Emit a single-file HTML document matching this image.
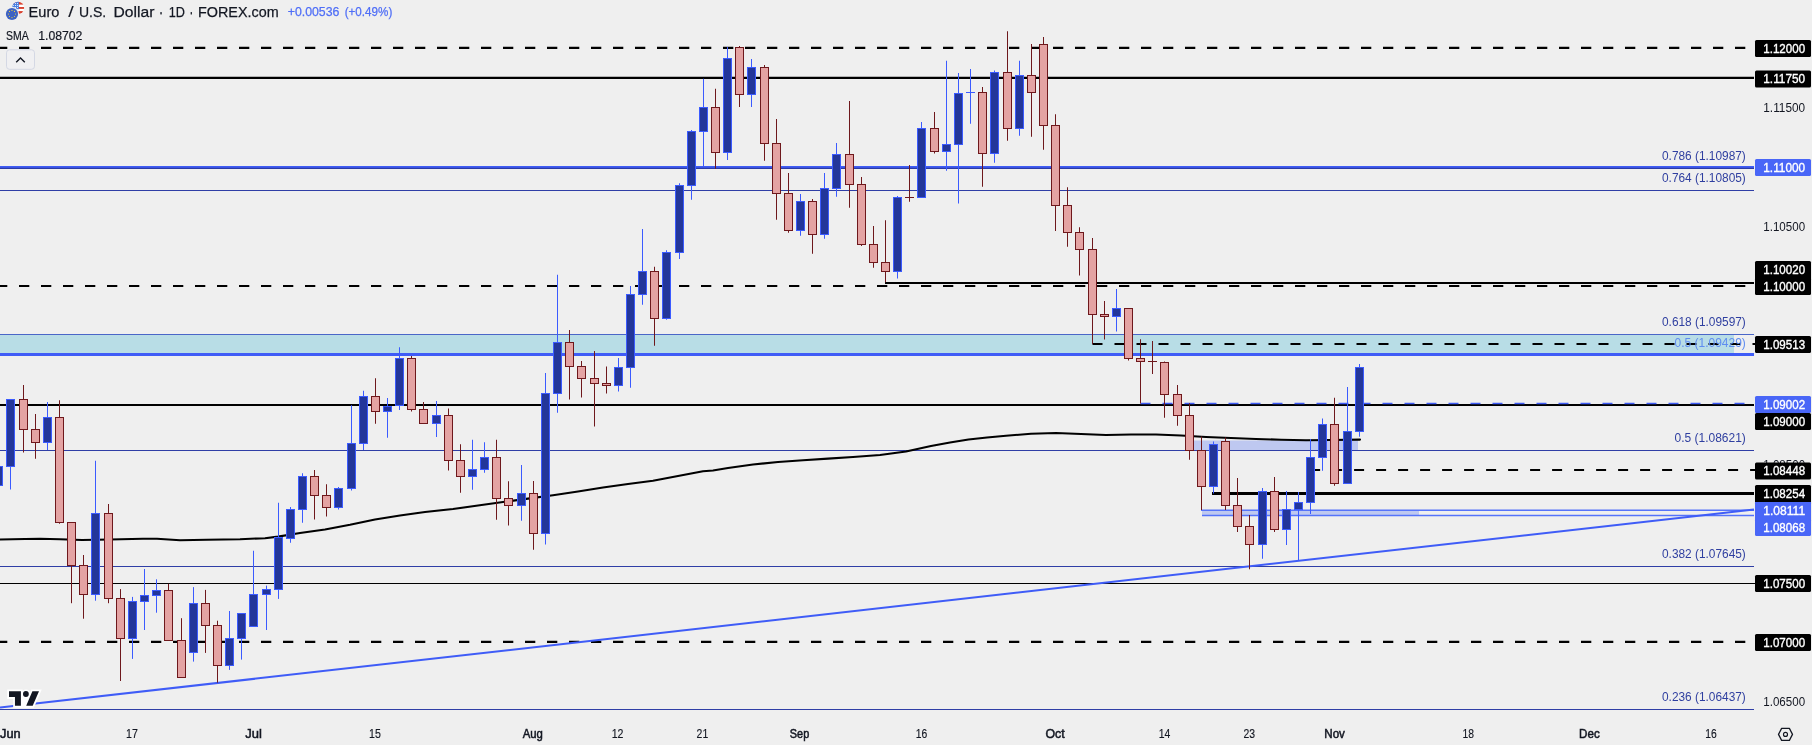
<!DOCTYPE html>
<html><head><meta charset="utf-8"><title>Euro / U.S. Dollar 1D</title>
<style>html,body{margin:0;padding:0;background:#efefef;overflow:hidden}body{width:1812px;height:745px}</style></head>
<body>
<svg width="1812" height="745" viewBox="0 0 1812 745" style="display:block;will-change:transform" font-family="'Liberation Sans', sans-serif">
<rect width="1812" height="745" fill="#efefef"/>
<rect x="0" y="335" width="1734" height="18" fill="#b8dde6"/>
<line x1="0" y1="334.5" x2="1754" y2="334.5" stroke="#4a66c8" stroke-width="1"/>
<line x1="0" y1="354.5" x2="1754" y2="354.5" stroke="#3f5cf7" stroke-width="3"/>
<rect x="1193.5" y="440.5" width="164.5" height="9.5" fill="#bec8f0"/>
<rect x="1202" y="511" width="217" height="4" fill="#bec8f0"/>
<line x1="0" y1="190.5" x2="1754" y2="190.5" stroke="#2f3ea6" stroke-width="1.05"/>
<line x1="0" y1="450.5" x2="1754" y2="450.5" stroke="#2f3ea6" stroke-width="1.05"/>
<line x1="0" y1="566.5" x2="1754" y2="566.5" stroke="#2f3ea6" stroke-width="1.05"/>
<line x1="0" y1="709.5" x2="1754" y2="709.5" stroke="#2f3ea6" stroke-width="1.05"/>
<line x1="0" y1="167.2" x2="1754" y2="167.2" stroke="#3f5cf5" stroke-width="2.6"/>
<line x1="0" y1="168.4" x2="1754" y2="168.4" stroke="#2c3ba6" stroke-width="1.2"/>
<line x1="0" y1="77.9" x2="1754" y2="77.9" stroke="#000" stroke-width="2.1"/>
<line x1="885" y1="282.95" x2="1754" y2="282.95" stroke="#000" stroke-width="1.95"/>
<line x1="0" y1="405.0" x2="1754" y2="405.0" stroke="#000" stroke-width="2.1"/>
<line x1="1212" y1="493.5" x2="1754" y2="493.5" stroke="#000" stroke-width="3"/>
<line x1="0" y1="583.5" x2="1755" y2="583.5" stroke="#000" stroke-width="1.2"/>
<line x1="-3" y1="47.9" x2="1750" y2="47.9" stroke="#000" stroke-width="2.2" stroke-dasharray="10.3 11.7" stroke-dashoffset="0"/>
<line x1="-3" y1="286" x2="1750" y2="286" stroke="#000" stroke-width="2.2" stroke-dasharray="10.3 11.7" stroke-dashoffset="0"/>
<line x1="-3" y1="641.85" x2="1750" y2="641.85" stroke="#000" stroke-width="2.2" stroke-dasharray="10.3 11.7" stroke-dashoffset="0"/>
<line x1="1092.5" y1="344" x2="1755" y2="344" stroke="#000" stroke-width="2.2" stroke-dasharray="10 12" stroke-dashoffset="0"/>
<line x1="1310.1" y1="470" x2="1755" y2="470" stroke="#000" stroke-width="2.2" stroke-dasharray="10 12" stroke-dashoffset="0"/>
<line x1="1140.5" y1="403.5" x2="1755" y2="403.5" stroke="#3f5cf7" stroke-width="1.3" stroke-dasharray="10 12" stroke-dashoffset="0"/>
<line x1="1201" y1="510.25" x2="1754" y2="510.25" stroke="#5573fa" stroke-width="1.5"/>
<line x1="1202" y1="515.5" x2="1754" y2="515.5" stroke="#5573fa" stroke-width="1.4"/>
<line x1="0" y1="707.55" x2="1754" y2="509.4" stroke="#3f5cf7" stroke-width="2"/>
<polyline points="0,539.5 25,539 40,538.7 60,539.3 82,540 110,539.5 143,538.7 157,538.7 180,540.3 207,539.7 240,539.2 265,538.2 278,536.6 300,533 325,529.5 350,524.8 375,519.5 400,515.5 425,512 453,509 478,505.5 503,502 528,498.6 553,495.25 578,491.5 603,487.5 628,484 653,480.75 678,476 703,471.25 713,470.5 728,468 753,464.5 778,462 803,460.25 828,458.6 853,457 880,455 906,451.5 931,446 950,442.5 968.5,439.5 987,437.5 1006,435.75 1031,433.75 1056,433 1081,434 1106,435 1131,434.5 1156,434.5 1181,435.5 1206,437 1231,438 1256,439 1281,439.75 1306,440.2 1331,440 1360,439.6" fill="none" stroke="#000" stroke-width="2.1" stroke-linejoin="round" stroke-linecap="round"/>
<rect x="-2.0" y="466.50" width="1" height="19.25" fill="#3b5bff"/>
<rect x="-5.5" y="466.5" width="8" height="19" fill="#23369a" stroke="#3b5bff" stroke-width="1"/>
<rect x="10.0" y="399.00" width="1" height="90.50" fill="#3b5bff"/>
<rect x="6.5" y="399.5" width="8" height="67" fill="#23369a" stroke="#3b5bff" stroke-width="1"/>
<rect x="23.0" y="385.00" width="1" height="67.50" fill="#6e181c"/>
<rect x="19.5" y="399.5" width="8" height="30" fill="#e4a3a3" stroke="#6e181c" stroke-width="1"/>
<rect x="35.0" y="414.00" width="1" height="44.75" fill="#6e181c"/>
<rect x="31.5" y="429.5" width="8" height="13" fill="#e4a3a3" stroke="#6e181c" stroke-width="1"/>
<rect x="47.0" y="402.00" width="1" height="48.00" fill="#3b5bff"/>
<rect x="43.5" y="417.5" width="8" height="25" fill="#23369a" stroke="#3b5bff" stroke-width="1"/>
<rect x="59.0" y="400.25" width="1" height="123.50" fill="#6e181c"/>
<rect x="55.5" y="417.5" width="8" height="105" fill="#e4a3a3" stroke="#6e181c" stroke-width="1"/>
<rect x="71.0" y="522.25" width="1" height="80.95" fill="#6e181c"/>
<rect x="67.5" y="522.5" width="8" height="43" fill="#e4a3a3" stroke="#6e181c" stroke-width="1"/>
<rect x="83.0" y="555.00" width="1" height="63.70" fill="#6e181c"/>
<rect x="79.5" y="565.5" width="8" height="29" fill="#e4a3a3" stroke="#6e181c" stroke-width="1"/>
<rect x="95.0" y="460.75" width="1" height="139.95" fill="#3b5bff"/>
<rect x="91.5" y="513.5" width="8" height="81" fill="#23369a" stroke="#3b5bff" stroke-width="1"/>
<rect x="108.0" y="504.00" width="1" height="99.20" fill="#6e181c"/>
<rect x="104.5" y="513.5" width="8" height="85" fill="#e4a3a3" stroke="#6e181c" stroke-width="1"/>
<rect x="120.0" y="589.10" width="1" height="91.90" fill="#6e181c"/>
<rect x="116.5" y="598.5" width="8" height="40" fill="#e4a3a3" stroke="#6e181c" stroke-width="1"/>
<rect x="132.0" y="596.90" width="1" height="62.00" fill="#3b5bff"/>
<rect x="128.5" y="601.5" width="8" height="37" fill="#23369a" stroke="#3b5bff" stroke-width="1"/>
<rect x="144.0" y="569.00" width="1" height="61.00" fill="#3b5bff"/>
<rect x="140.5" y="595.5" width="8" height="6" fill="#23369a" stroke="#3b5bff" stroke-width="1"/>
<rect x="156.0" y="579.30" width="1" height="33.40" fill="#3b5bff"/>
<rect x="152.5" y="590.5" width="8" height="5" fill="#23369a" stroke="#3b5bff" stroke-width="1"/>
<rect x="168.0" y="583.80" width="1" height="56.50" fill="#6e181c"/>
<rect x="164.5" y="590.5" width="8" height="50" fill="#e4a3a3" stroke="#6e181c" stroke-width="1"/>
<rect x="181.0" y="618.20" width="1" height="59.20" fill="#6e181c"/>
<rect x="177.5" y="640.5" width="8" height="37" fill="#e4a3a3" stroke="#6e181c" stroke-width="1"/>
<rect x="193.0" y="587.10" width="1" height="74.50" fill="#3b5bff"/>
<rect x="189.5" y="603.5" width="8" height="49" fill="#23369a" stroke="#3b5bff" stroke-width="1"/>
<rect x="205.0" y="589.90" width="1" height="63.00" fill="#6e181c"/>
<rect x="201.5" y="603.5" width="8" height="22" fill="#e4a3a3" stroke="#6e181c" stroke-width="1"/>
<rect x="217.0" y="620.70" width="1" height="62.00" fill="#6e181c"/>
<rect x="213.5" y="625.5" width="8" height="40" fill="#e4a3a3" stroke="#6e181c" stroke-width="1"/>
<rect x="229.0" y="611.00" width="1" height="58.90" fill="#3b5bff"/>
<rect x="225.5" y="638.5" width="8" height="27" fill="#23369a" stroke="#3b5bff" stroke-width="1"/>
<rect x="241.0" y="613.20" width="1" height="46.40" fill="#3b5bff"/>
<rect x="237.5" y="613.5" width="8" height="25" fill="#23369a" stroke="#3b5bff" stroke-width="1"/>
<rect x="253.0" y="550.75" width="1" height="75.55" fill="#3b5bff"/>
<rect x="249.5" y="594.5" width="8" height="32" fill="#23369a" stroke="#3b5bff" stroke-width="1"/>
<rect x="266.0" y="585.60" width="1" height="44.40" fill="#3b5bff"/>
<rect x="262.5" y="589.5" width="8" height="5" fill="#23369a" stroke="#3b5bff" stroke-width="1"/>
<rect x="278.0" y="502.75" width="1" height="96.15" fill="#3b5bff"/>
<rect x="274.5" y="537.5" width="8" height="52" fill="#23369a" stroke="#3b5bff" stroke-width="1"/>
<rect x="290.0" y="507.00" width="1" height="35.75" fill="#3b5bff"/>
<rect x="286.5" y="509.5" width="8" height="29" fill="#23369a" stroke="#3b5bff" stroke-width="1"/>
<rect x="302.0" y="473.25" width="1" height="49.50" fill="#3b5bff"/>
<rect x="298.5" y="476.5" width="8" height="33" fill="#23369a" stroke="#3b5bff" stroke-width="1"/>
<rect x="314.0" y="470.00" width="1" height="49.50" fill="#6e181c"/>
<rect x="310.5" y="476.5" width="8" height="19" fill="#e4a3a3" stroke="#6e181c" stroke-width="1"/>
<rect x="326.0" y="484.25" width="1" height="32.25" fill="#6e181c"/>
<rect x="322.5" y="495.5" width="8" height="12" fill="#e4a3a3" stroke="#6e181c" stroke-width="1"/>
<rect x="338.0" y="487.00" width="1" height="22.50" fill="#3b5bff"/>
<rect x="334.5" y="488.5" width="8" height="19" fill="#23369a" stroke="#3b5bff" stroke-width="1"/>
<rect x="351.0" y="405.25" width="1" height="85.25" fill="#3b5bff"/>
<rect x="347.5" y="443.5" width="8" height="45" fill="#23369a" stroke="#3b5bff" stroke-width="1"/>
<rect x="363.0" y="390.75" width="1" height="59.25" fill="#3b5bff"/>
<rect x="359.5" y="396.5" width="8" height="47" fill="#23369a" stroke="#3b5bff" stroke-width="1"/>
<rect x="375.0" y="378.25" width="1" height="45.50" fill="#6e181c"/>
<rect x="371.5" y="396.5" width="8" height="15" fill="#e4a3a3" stroke="#6e181c" stroke-width="1"/>
<rect x="387.0" y="398.00" width="1" height="39.75" fill="#3b5bff"/>
<rect x="383.5" y="406.5" width="8" height="5" fill="#23369a" stroke="#3b5bff" stroke-width="1"/>
<rect x="399.0" y="347.25" width="1" height="62.75" fill="#3b5bff"/>
<rect x="395.5" y="358.5" width="8" height="47" fill="#23369a" stroke="#3b5bff" stroke-width="1"/>
<rect x="411.0" y="356.00" width="1" height="55.50" fill="#6e181c"/>
<rect x="407.5" y="358.5" width="8" height="51" fill="#e4a3a3" stroke="#6e181c" stroke-width="1"/>
<rect x="423.0" y="402.00" width="1" height="21.50" fill="#6e181c"/>
<rect x="419.5" y="409.5" width="8" height="14" fill="#e4a3a3" stroke="#6e181c" stroke-width="1"/>
<rect x="436.0" y="401.00" width="1" height="36.00" fill="#3b5bff"/>
<rect x="432.5" y="415.5" width="8" height="8" fill="#23369a" stroke="#3b5bff" stroke-width="1"/>
<rect x="448.0" y="408.50" width="1" height="62.00" fill="#6e181c"/>
<rect x="444.5" y="415.5" width="8" height="45" fill="#e4a3a3" stroke="#6e181c" stroke-width="1"/>
<rect x="460.0" y="444.25" width="1" height="48.50" fill="#6e181c"/>
<rect x="456.5" y="460.5" width="8" height="16" fill="#e4a3a3" stroke="#6e181c" stroke-width="1"/>
<rect x="472.0" y="439.75" width="1" height="50.00" fill="#3b5bff"/>
<rect x="468.5" y="469.5" width="8" height="7" fill="#23369a" stroke="#3b5bff" stroke-width="1"/>
<rect x="484.0" y="442.25" width="1" height="30.50" fill="#3b5bff"/>
<rect x="480.5" y="457.5" width="8" height="12" fill="#23369a" stroke="#3b5bff" stroke-width="1"/>
<rect x="496.0" y="439.75" width="1" height="80.00" fill="#6e181c"/>
<rect x="492.5" y="457.5" width="8" height="41" fill="#e4a3a3" stroke="#6e181c" stroke-width="1"/>
<rect x="508.0" y="481.25" width="1" height="44.25" fill="#6e181c"/>
<rect x="504.5" y="498.5" width="8" height="7" fill="#e4a3a3" stroke="#6e181c" stroke-width="1"/>
<rect x="521.0" y="465.00" width="1" height="55.75" fill="#3b5bff"/>
<rect x="517.5" y="493.5" width="8" height="12" fill="#23369a" stroke="#3b5bff" stroke-width="1"/>
<rect x="533.0" y="481.00" width="1" height="68.75" fill="#6e181c"/>
<rect x="529.5" y="493.5" width="8" height="40" fill="#e4a3a3" stroke="#6e181c" stroke-width="1"/>
<rect x="545.0" y="373.00" width="1" height="171.50" fill="#3b5bff"/>
<rect x="541.5" y="393.5" width="8" height="140" fill="#23369a" stroke="#3b5bff" stroke-width="1"/>
<rect x="557.0" y="274.75" width="1" height="138.00" fill="#3b5bff"/>
<rect x="553.5" y="342.5" width="8" height="51" fill="#23369a" stroke="#3b5bff" stroke-width="1"/>
<rect x="569.0" y="330.00" width="1" height="69.50" fill="#6e181c"/>
<rect x="565.5" y="342.5" width="8" height="24" fill="#e4a3a3" stroke="#6e181c" stroke-width="1"/>
<rect x="581.0" y="361.00" width="1" height="36.50" fill="#6e181c"/>
<rect x="577.5" y="366.5" width="8" height="12" fill="#e4a3a3" stroke="#6e181c" stroke-width="1"/>
<rect x="594.0" y="351.00" width="1" height="75.50" fill="#6e181c"/>
<rect x="590.5" y="378.5" width="8" height="5" fill="#e4a3a3" stroke="#6e181c" stroke-width="1"/>
<rect x="606.0" y="366.50" width="1" height="27.00" fill="#6e181c"/>
<rect x="602.5" y="383.5" width="8" height="2" fill="#e4a3a3" stroke="#6e181c" stroke-width="1"/>
<rect x="618.0" y="358.00" width="1" height="33.50" fill="#3b5bff"/>
<rect x="614.5" y="367.5" width="8" height="18" fill="#23369a" stroke="#3b5bff" stroke-width="1"/>
<rect x="630.0" y="286.00" width="1" height="101.75" fill="#3b5bff"/>
<rect x="626.5" y="294.5" width="8" height="73" fill="#23369a" stroke="#3b5bff" stroke-width="1"/>
<rect x="642.0" y="229.00" width="1" height="75.75" fill="#3b5bff"/>
<rect x="638.5" y="271.5" width="8" height="23" fill="#23369a" stroke="#3b5bff" stroke-width="1"/>
<rect x="654.0" y="266.75" width="1" height="79.00" fill="#6e181c"/>
<rect x="650.5" y="271.5" width="8" height="47" fill="#e4a3a3" stroke="#6e181c" stroke-width="1"/>
<rect x="666.0" y="250.25" width="1" height="69.50" fill="#3b5bff"/>
<rect x="662.5" y="252.5" width="8" height="66" fill="#23369a" stroke="#3b5bff" stroke-width="1"/>
<rect x="679.0" y="183.25" width="1" height="75.75" fill="#3b5bff"/>
<rect x="675.5" y="185.5" width="8" height="67" fill="#23369a" stroke="#3b5bff" stroke-width="1"/>
<rect x="691.0" y="130.00" width="1" height="69.75" fill="#3b5bff"/>
<rect x="687.5" y="131.5" width="8" height="54" fill="#23369a" stroke="#3b5bff" stroke-width="1"/>
<rect x="703.0" y="78.75" width="1" height="87.50" fill="#3b5bff"/>
<rect x="699.5" y="107.5" width="8" height="24" fill="#23369a" stroke="#3b5bff" stroke-width="1"/>
<rect x="715.0" y="88.75" width="1" height="80.00" fill="#6e181c"/>
<rect x="711.5" y="107.5" width="8" height="45" fill="#e4a3a3" stroke="#6e181c" stroke-width="1"/>
<rect x="727.0" y="47.00" width="1" height="113.00" fill="#3b5bff"/>
<rect x="723.5" y="58.5" width="8" height="94" fill="#23369a" stroke="#3b5bff" stroke-width="1"/>
<rect x="739.0" y="46.00" width="1" height="61.00" fill="#6e181c"/>
<rect x="735.5" y="47.5" width="8" height="47" fill="#e4a3a3" stroke="#6e181c" stroke-width="1"/>
<rect x="751.0" y="59.00" width="1" height="48.00" fill="#3b5bff"/>
<rect x="747.5" y="67.5" width="8" height="27" fill="#23369a" stroke="#3b5bff" stroke-width="1"/>
<rect x="764.0" y="65.00" width="1" height="95.75" fill="#6e181c"/>
<rect x="760.5" y="67.5" width="8" height="76" fill="#e4a3a3" stroke="#6e181c" stroke-width="1"/>
<rect x="776.0" y="119.00" width="1" height="100.75" fill="#6e181c"/>
<rect x="772.5" y="143.5" width="8" height="50" fill="#e4a3a3" stroke="#6e181c" stroke-width="1"/>
<rect x="788.0" y="173.00" width="1" height="59.75" fill="#6e181c"/>
<rect x="784.5" y="193.5" width="8" height="37" fill="#e4a3a3" stroke="#6e181c" stroke-width="1"/>
<rect x="800.0" y="194.00" width="1" height="41.75" fill="#3b5bff"/>
<rect x="796.5" y="201.5" width="8" height="29" fill="#23369a" stroke="#3b5bff" stroke-width="1"/>
<rect x="812.0" y="199.00" width="1" height="54.75" fill="#6e181c"/>
<rect x="808.5" y="201.5" width="8" height="33" fill="#e4a3a3" stroke="#6e181c" stroke-width="1"/>
<rect x="824.0" y="173.00" width="1" height="65.75" fill="#3b5bff"/>
<rect x="820.5" y="188.5" width="8" height="46" fill="#23369a" stroke="#3b5bff" stroke-width="1"/>
<rect x="836.0" y="143.00" width="1" height="53.75" fill="#3b5bff"/>
<rect x="832.5" y="154.5" width="8" height="34" fill="#23369a" stroke="#3b5bff" stroke-width="1"/>
<rect x="849.0" y="101.00" width="1" height="106.75" fill="#6e181c"/>
<rect x="845.5" y="154.5" width="8" height="30" fill="#e4a3a3" stroke="#6e181c" stroke-width="1"/>
<rect x="861.0" y="177.00" width="1" height="69.00" fill="#6e181c"/>
<rect x="857.5" y="184.5" width="8" height="60" fill="#e4a3a3" stroke="#6e181c" stroke-width="1"/>
<rect x="873.0" y="226.00" width="1" height="41.75" fill="#6e181c"/>
<rect x="869.5" y="244.5" width="8" height="18" fill="#e4a3a3" stroke="#6e181c" stroke-width="1"/>
<rect x="885.0" y="220.25" width="1" height="62.00" fill="#6e181c"/>
<rect x="881.5" y="262.5" width="8" height="9" fill="#e4a3a3" stroke="#6e181c" stroke-width="1"/>
<rect x="897.0" y="196.00" width="1" height="82.50" fill="#3b5bff"/>
<rect x="893.5" y="197.5" width="8" height="74" fill="#23369a" stroke="#3b5bff" stroke-width="1"/>
<rect x="909.0" y="165.00" width="1" height="36.75" fill="#6e181c"/>
<rect x="905.0" y="197" width="9" height="1" fill="#6e181c"/>
<rect x="921.0" y="122.00" width="1" height="75.50" fill="#3b5bff"/>
<rect x="917.5" y="128.5" width="8" height="69" fill="#23369a" stroke="#3b5bff" stroke-width="1"/>
<rect x="934.0" y="112.00" width="1" height="41.50" fill="#6e181c"/>
<rect x="930.5" y="128.5" width="8" height="23" fill="#e4a3a3" stroke="#6e181c" stroke-width="1"/>
<rect x="946.0" y="60.75" width="1" height="110.00" fill="#3b5bff"/>
<rect x="942.5" y="144.5" width="8" height="7" fill="#23369a" stroke="#3b5bff" stroke-width="1"/>
<rect x="958.0" y="73.00" width="1" height="130.50" fill="#3b5bff"/>
<rect x="954.5" y="93.5" width="8" height="51" fill="#23369a" stroke="#3b5bff" stroke-width="1"/>
<rect x="970.0" y="69.00" width="1" height="54.75" fill="#3b5bff"/>
<rect x="966.0" y="92" width="9" height="1" fill="#3b5bff"/>
<rect x="982.0" y="87.00" width="1" height="99.75" fill="#6e181c"/>
<rect x="978.5" y="92.5" width="8" height="61" fill="#e4a3a3" stroke="#6e181c" stroke-width="1"/>
<rect x="994.0" y="70.50" width="1" height="92.25" fill="#3b5bff"/>
<rect x="990.5" y="72.5" width="8" height="81" fill="#23369a" stroke="#3b5bff" stroke-width="1"/>
<rect x="1007.0" y="31.25" width="1" height="109.50" fill="#6e181c"/>
<rect x="1003.5" y="72.5" width="8" height="56" fill="#e4a3a3" stroke="#6e181c" stroke-width="1"/>
<rect x="1019.0" y="60.75" width="1" height="75.00" fill="#3b5bff"/>
<rect x="1015.5" y="75.5" width="8" height="53" fill="#23369a" stroke="#3b5bff" stroke-width="1"/>
<rect x="1031.0" y="44.00" width="1" height="92.75" fill="#6e181c"/>
<rect x="1027.5" y="75.5" width="8" height="17" fill="#e4a3a3" stroke="#6e181c" stroke-width="1"/>
<rect x="1043.0" y="37.00" width="1" height="112.75" fill="#6e181c"/>
<rect x="1039.5" y="44.5" width="8" height="81" fill="#e4a3a3" stroke="#6e181c" stroke-width="1"/>
<rect x="1055.0" y="114.25" width="1" height="116.75" fill="#6e181c"/>
<rect x="1051.5" y="125.5" width="8" height="80" fill="#e4a3a3" stroke="#6e181c" stroke-width="1"/>
<rect x="1067.0" y="187.25" width="1" height="59.50" fill="#6e181c"/>
<rect x="1063.5" y="205.5" width="8" height="27" fill="#e4a3a3" stroke="#6e181c" stroke-width="1"/>
<rect x="1079.0" y="227.25" width="1" height="48.25" fill="#6e181c"/>
<rect x="1075.5" y="232.5" width="8" height="17" fill="#e4a3a3" stroke="#6e181c" stroke-width="1"/>
<rect x="1092.0" y="238.00" width="1" height="106.00" fill="#6e181c"/>
<rect x="1088.5" y="249.5" width="8" height="65" fill="#e4a3a3" stroke="#6e181c" stroke-width="1"/>
<rect x="1104.0" y="301.00" width="1" height="38.50" fill="#6e181c"/>
<rect x="1100.5" y="314.5" width="8" height="2" fill="#e4a3a3" stroke="#6e181c" stroke-width="1"/>
<rect x="1116.0" y="289.00" width="1" height="42.50" fill="#3b5bff"/>
<rect x="1112.5" y="308.5" width="8" height="8" fill="#23369a" stroke="#3b5bff" stroke-width="1"/>
<rect x="1128.0" y="308.50" width="1" height="52.00" fill="#6e181c"/>
<rect x="1124.5" y="308.5" width="8" height="50" fill="#e4a3a3" stroke="#6e181c" stroke-width="1"/>
<rect x="1140.0" y="339.25" width="1" height="64.25" fill="#6e181c"/>
<rect x="1136.5" y="358.5" width="8" height="3" fill="#e4a3a3" stroke="#6e181c" stroke-width="1"/>
<rect x="1152.0" y="341.00" width="1" height="33.00" fill="#6e181c"/>
<rect x="1148.0" y="361" width="9" height="1" fill="#6e181c"/>
<rect x="1164.0" y="361.50" width="1" height="56.25" fill="#6e181c"/>
<rect x="1160.5" y="362.5" width="8" height="32" fill="#e4a3a3" stroke="#6e181c" stroke-width="1"/>
<rect x="1177.0" y="385.00" width="1" height="40.75" fill="#6e181c"/>
<rect x="1173.5" y="394.5" width="8" height="21" fill="#e4a3a3" stroke="#6e181c" stroke-width="1"/>
<rect x="1189.0" y="403.25" width="1" height="56.50" fill="#6e181c"/>
<rect x="1185.5" y="415.5" width="8" height="35" fill="#e4a3a3" stroke="#6e181c" stroke-width="1"/>
<rect x="1201.0" y="436.50" width="1" height="73.50" fill="#6e181c"/>
<rect x="1197.5" y="450.5" width="8" height="36" fill="#e4a3a3" stroke="#6e181c" stroke-width="1"/>
<rect x="1213.0" y="441.50" width="1" height="52.00" fill="#3b5bff"/>
<rect x="1209.5" y="444.5" width="8" height="42" fill="#23369a" stroke="#3b5bff" stroke-width="1"/>
<rect x="1225.0" y="437.50" width="1" height="72.50" fill="#6e181c"/>
<rect x="1221.5" y="441.5" width="8" height="64" fill="#e4a3a3" stroke="#6e181c" stroke-width="1"/>
<rect x="1237.0" y="478.00" width="1" height="54.00" fill="#6e181c"/>
<rect x="1233.5" y="505.5" width="8" height="21" fill="#e4a3a3" stroke="#6e181c" stroke-width="1"/>
<rect x="1249.0" y="515.00" width="1" height="54.30" fill="#6e181c"/>
<rect x="1245.5" y="526.5" width="8" height="18" fill="#e4a3a3" stroke="#6e181c" stroke-width="1"/>
<rect x="1262.0" y="488.00" width="1" height="70.75" fill="#3b5bff"/>
<rect x="1258.5" y="491.5" width="8" height="53" fill="#23369a" stroke="#3b5bff" stroke-width="1"/>
<rect x="1274.0" y="477.00" width="1" height="55.00" fill="#6e181c"/>
<rect x="1270.5" y="491.5" width="8" height="38" fill="#e4a3a3" stroke="#6e181c" stroke-width="1"/>
<rect x="1286.0" y="491.00" width="1" height="54.00" fill="#3b5bff"/>
<rect x="1282.5" y="509.5" width="8" height="20" fill="#23369a" stroke="#3b5bff" stroke-width="1"/>
<rect x="1298.0" y="492.00" width="1" height="68.00" fill="#3b5bff"/>
<rect x="1294.5" y="502.5" width="8" height="7" fill="#23369a" stroke="#3b5bff" stroke-width="1"/>
<rect x="1310.0" y="439.00" width="1" height="75.00" fill="#3b5bff"/>
<rect x="1306.5" y="457.5" width="8" height="45" fill="#23369a" stroke="#3b5bff" stroke-width="1"/>
<rect x="1322.0" y="418.50" width="1" height="52.25" fill="#3b5bff"/>
<rect x="1318.5" y="424.5" width="8" height="33" fill="#23369a" stroke="#3b5bff" stroke-width="1"/>
<rect x="1334.0" y="397.75" width="1" height="88.00" fill="#6e181c"/>
<rect x="1330.5" y="424.5" width="8" height="59" fill="#e4a3a3" stroke="#6e181c" stroke-width="1"/>
<rect x="1347.0" y="387.00" width="1" height="96.50" fill="#3b5bff"/>
<rect x="1343.5" y="431.5" width="8" height="52" fill="#23369a" stroke="#3b5bff" stroke-width="1"/>
<rect x="1359.0" y="364.00" width="1" height="72.70" fill="#3b5bff"/>
<rect x="1355.5" y="367.5" width="8" height="64" fill="#23369a" stroke="#3b5bff" stroke-width="1"/>
<text x="1763.3" y="112.30" font-size="12" fill="#131722" textLength="41.8" lengthAdjust="spacingAndGlyphs">1.11500</text>
<text x="1763.3" y="231.05" font-size="12" fill="#131722" textLength="41.8" lengthAdjust="spacingAndGlyphs">1.10500</text>
<text x="1763.3" y="468.80" font-size="12" fill="#131722" textLength="41.8" lengthAdjust="spacingAndGlyphs">1.08500</text>
<text x="1763.3" y="705.80" font-size="12" fill="#131722" textLength="41.8" lengthAdjust="spacingAndGlyphs">1.06500</text>
<rect x="1755" y="40" width="56" height="17" rx="1.5" fill="#000"/>
<text x="1763.3" y="52.70" font-size="12" fill="#fff" stroke="#fff" stroke-width="0.35" textLength="41.8" lengthAdjust="spacingAndGlyphs">1.12000</text>
<rect x="1755" y="70.5" width="56" height="17.0" rx="1.5" fill="#000"/>
<text x="1763.3" y="83.20" font-size="12" fill="#fff" stroke="#fff" stroke-width="0.35" textLength="41.8" lengthAdjust="spacingAndGlyphs">1.11750</text>
<rect x="1755" y="159" width="56" height="17" rx="1.5" fill="#4966f7"/>
<text x="1763.3" y="171.70" font-size="12" fill="#fff" stroke="#fff" stroke-width="0.35" textLength="41.8" lengthAdjust="spacingAndGlyphs">1.11000</text>
<rect x="1755" y="274" width="56" height="8" fill="#000"/>
<rect x="1755" y="261" width="56" height="17" rx="1.5" fill="#000"/>
<text x="1763.3" y="273.70" font-size="12" fill="#fff" stroke="#fff" stroke-width="0.35" textLength="41.8" lengthAdjust="spacingAndGlyphs">1.10020</text>
<rect x="1755" y="278" width="56" height="17" rx="1.5" fill="#000"/>
<text x="1763.3" y="290.70" font-size="12" fill="#fff" stroke="#fff" stroke-width="0.35" textLength="41.8" lengthAdjust="spacingAndGlyphs">1.10000</text>
<rect x="1755" y="336" width="56" height="17" rx="1.5" fill="#000"/>
<text x="1763.3" y="348.70" font-size="12" fill="#fff" stroke="#fff" stroke-width="0.35" textLength="41.8" lengthAdjust="spacingAndGlyphs">1.09513</text>
<rect x="1755" y="396" width="56" height="17" rx="1.5" fill="#4966f7"/>
<text x="1763.3" y="408.70" font-size="12" fill="#fff" stroke="#fff" stroke-width="0.35" textLength="41.8" lengthAdjust="spacingAndGlyphs">1.09002</text>
<rect x="1755" y="413" width="56" height="17" rx="1.5" fill="#000"/>
<text x="1763.3" y="425.70" font-size="12" fill="#fff" stroke="#fff" stroke-width="0.35" textLength="41.8" lengthAdjust="spacingAndGlyphs">1.09000</text>
<rect x="1755" y="462.5" width="56" height="17.0" rx="1.5" fill="#000"/>
<text x="1763.3" y="475.20" font-size="12" fill="#fff" stroke="#fff" stroke-width="0.35" textLength="41.8" lengthAdjust="spacingAndGlyphs">1.08448</text>
<rect x="1755" y="498" width="56" height="8" fill="#000"/>
<rect x="1755" y="502" width="56" height="30" fill="#4966f7"/>
<rect x="1755" y="485" width="56" height="17" rx="1.5" fill="#000"/>
<text x="1763.3" y="497.70" font-size="12" fill="#fff" stroke="#fff" stroke-width="0.35" textLength="41.8" lengthAdjust="spacingAndGlyphs">1.08254</text>
<rect x="1755" y="502" width="56" height="17" rx="1.5" fill="#4966f7"/>
<text x="1763.3" y="514.70" font-size="12" fill="#fff" stroke="#fff" stroke-width="0.35" textLength="41.8" lengthAdjust="spacingAndGlyphs">1.08111</text>
<rect x="1755" y="519" width="56" height="17" rx="1.5" fill="#4966f7"/>
<text x="1763.3" y="531.70" font-size="12" fill="#fff" stroke="#fff" stroke-width="0.35" textLength="41.8" lengthAdjust="spacingAndGlyphs">1.08068</text>
<rect x="1755" y="575" width="56" height="17" rx="1.5" fill="#000"/>
<text x="1763.3" y="587.70" font-size="12" fill="#fff" stroke="#fff" stroke-width="0.35" textLength="41.8" lengthAdjust="spacingAndGlyphs">1.07500</text>
<rect x="1755" y="634" width="56" height="17" rx="1.5" fill="#000"/>
<text x="1763.3" y="646.70" font-size="12" fill="#fff" stroke="#fff" stroke-width="0.35" textLength="41.8" lengthAdjust="spacingAndGlyphs">1.07000</text>
<text x="1662" y="160.05" font-size="12" fill="#2f3fa0" textLength="83.8" lengthAdjust="spacingAndGlyphs">0.786 (1.10987)</text>
<text x="1662" y="182.30" font-size="12" fill="#2f3fa0" textLength="83.8" lengthAdjust="spacingAndGlyphs">0.764 (1.10805)</text>
<text x="1662" y="326.05" font-size="12" fill="#2f3fa0" textLength="83.8" lengthAdjust="spacingAndGlyphs">0.618 (1.09597)</text>
<text x="1674.5" y="346.55" font-size="12" fill="#5f8df0" textLength="71.3" lengthAdjust="spacingAndGlyphs">0.5 (1.09429)</text>
<text x="1674.5" y="442.05" font-size="12" fill="#2f3fa0" textLength="71.3" lengthAdjust="spacingAndGlyphs">0.5 (1.08621)</text>
<text x="1662" y="557.55" font-size="12" fill="#2f3fa0" textLength="83.8" lengthAdjust="spacingAndGlyphs">0.382 (1.07645)</text>
<text x="1662" y="700.80" font-size="12" fill="#2f3fa0" textLength="83.8" lengthAdjust="spacingAndGlyphs">0.236 (1.06437)</text>
<text x="0.0" y="738" font-size="12" fill="#131722" stroke="#131722" stroke-width="0.5" textLength="20.6" lengthAdjust="spacingAndGlyphs">Jun</text>
<text x="126.1" y="738" font-size="12" fill="#131722" stroke="#131722" stroke-width="0.15" textLength="11.8" lengthAdjust="spacingAndGlyphs">17</text>
<text x="245.2" y="738" font-size="12" fill="#131722" stroke="#131722" stroke-width="0.5" textLength="16.6" lengthAdjust="spacingAndGlyphs">Jul</text>
<text x="369.1" y="738" font-size="12" fill="#131722" stroke="#131722" stroke-width="0.15" textLength="11.8" lengthAdjust="spacingAndGlyphs">15</text>
<text x="522.7" y="738" font-size="12" fill="#131722" stroke="#131722" stroke-width="0.5" textLength="20.2" lengthAdjust="spacingAndGlyphs">Aug</text>
<text x="611.7" y="738" font-size="12" fill="#131722" stroke="#131722" stroke-width="0.15" textLength="11.8" lengthAdjust="spacingAndGlyphs">12</text>
<text x="696.6" y="738" font-size="12" fill="#131722" stroke="#131722" stroke-width="0.15" textLength="11.6" lengthAdjust="spacingAndGlyphs">21</text>
<text x="789.8" y="738" font-size="12" fill="#131722" stroke="#131722" stroke-width="0.5" textLength="19.4" lengthAdjust="spacingAndGlyphs">Sep</text>
<text x="915.8" y="738" font-size="12" fill="#131722" stroke="#131722" stroke-width="0.15" textLength="11.5" lengthAdjust="spacingAndGlyphs">16</text>
<text x="1045.4" y="738" font-size="12" fill="#131722" stroke="#131722" stroke-width="0.5" textLength="19.2" lengthAdjust="spacingAndGlyphs">Oct</text>
<text x="1158.7" y="738" font-size="12" fill="#131722" stroke="#131722" stroke-width="0.15" textLength="11.6" lengthAdjust="spacingAndGlyphs">14</text>
<text x="1243.5" y="738" font-size="12" fill="#131722" stroke="#131722" stroke-width="0.15" textLength="11.6" lengthAdjust="spacingAndGlyphs">23</text>
<text x="1324.3" y="738" font-size="12" fill="#131722" stroke="#131722" stroke-width="0.5" textLength="20.6" lengthAdjust="spacingAndGlyphs">Nov</text>
<text x="1462.5" y="738" font-size="12" fill="#131722" stroke="#131722" stroke-width="0.15" textLength="11.5" lengthAdjust="spacingAndGlyphs">18</text>
<text x="1579.1" y="738" font-size="12" fill="#131722" stroke="#131722" stroke-width="0.5" textLength="20.6" lengthAdjust="spacingAndGlyphs">Dec</text>
<text x="1705.2" y="738" font-size="12" fill="#131722" stroke="#131722" stroke-width="0.15" textLength="11.5" lengthAdjust="spacingAndGlyphs">16</text>
<polygon points="1778.5,734.4 1781.6,728.4 1789.4,728.4 1792.5,734.4 1789.4,740.4 1781.6,740.4" fill="none" stroke="#131722" stroke-width="1.25" stroke-linejoin="round"/>
<circle cx="1785.5" cy="734.4" r="2" fill="none" stroke="#131722" stroke-width="1.15"/>
<g>
<path d="M9 691.2H20.9V705.85H14.96V697.1H9Z M32.4 691.2H39L32.7 705.85H26.2Z" fill="#fff" stroke="#fff" stroke-width="3.6" stroke-linejoin="miter"/>
<circle cx="25.9" cy="694" r="4.6" fill="#fff"/>
<rect x="20" y="696" width="9" height="11.6" fill="#fff"/>
<path d="M9 691.2H20.9V705.85H14.96V697.1H9Z M32.4 691.2H39L32.7 705.85H26.2Z" fill="#131722"/>
<circle cx="25.9" cy="694" r="2.9" fill="#131722"/>
</g>
<clipPath id="us"><circle cx="18.08" cy="7.88" r="6.05"/></clipPath>
<g clip-path="url(#us)">
<rect x="11" y="1" width="14" height="14" fill="#ffffff"/>
<rect x="11" y="1.5" width="14" height="3.10" fill="#d8412f"/>
<rect x="11" y="7.0" width="14" height="1.90" fill="#d8412f"/>
<rect x="11" y="11.1" width="14" height="3.10" fill="#d8412f"/>
<rect x="11" y="1" width="7.85" height="8.3" fill="#4a80e2"/>
<rect x="15.0" y="3.0999999999999996" width="0.9" height="0.9" fill="#fff"/>
<rect x="17.0" y="3.0999999999999996" width="0.9" height="0.9" fill="#fff"/>
<rect x="12.850000000000001" y="5.1" width="0.9" height="0.9" fill="#fff"/>
<rect x="15.0" y="5.1" width="0.9" height="0.9" fill="#fff"/>
<rect x="17.0" y="5.1" width="0.9" height="0.9" fill="#fff"/>
<rect x="17.0" y="7.1" width="0.9" height="0.9" fill="#fff"/>
<rect x="15.0" y="7.1" width="0.9" height="0.9" fill="#fff"/>
<rect x="12.950000000000001" y="3.0999999999999996" width="0.9" height="0.9" fill="#fff"/>
</g>
<circle cx="11.97" cy="13.98" r="7.15" fill="#efefef"/>
<circle cx="11.97" cy="13.98" r="6.1" fill="#3d62c4"/>
<circle cx="15.52" cy="13.98" r="0.6" fill="#f0cf3c"/>
<circle cx="14.48" cy="16.49" r="0.6" fill="#f0cf3c"/>
<circle cx="11.97" cy="17.53" r="0.6" fill="#f0cf3c"/>
<circle cx="9.46" cy="16.49" r="0.6" fill="#f0cf3c"/>
<circle cx="8.42" cy="13.98" r="0.6" fill="#f0cf3c"/>
<circle cx="9.46" cy="11.47" r="0.6" fill="#f0cf3c"/>
<circle cx="11.97" cy="10.43" r="0.6" fill="#f0cf3c"/>
<circle cx="14.48" cy="11.47" r="0.6" fill="#f0cf3c"/>
<text x="28.6" y="16.85" font-size="15.3" fill="#131722" stroke="#131722" stroke-width="0.25" textLength="30.80" lengthAdjust="spacingAndGlyphs">Euro</text>
<text x="68.2" y="16.85" font-size="15.3" fill="#131722" stroke="#131722" stroke-width="0.1" textLength="5.40" lengthAdjust="spacingAndGlyphs">/</text>
<text x="79" y="16.85" font-size="15.3" fill="#131722" stroke="#131722" stroke-width="0.25" textLength="27.20" lengthAdjust="spacingAndGlyphs">U.S.</text>
<text x="113.5" y="16.85" font-size="15.3" fill="#131722" stroke="#131722" stroke-width="0.25" textLength="40.90" lengthAdjust="spacingAndGlyphs">Dollar</text>
<text x="159.7" y="16.85" font-size="15.3" fill="#131722" stroke="#131722" stroke-width="0.9" textLength="2.60" lengthAdjust="spacingAndGlyphs">·</text>
<text x="168.7" y="16.85" font-size="15.3" fill="#131722" stroke="#131722" stroke-width="0.25" textLength="16.20" lengthAdjust="spacingAndGlyphs">1D</text>
<text x="190.1" y="16.85" font-size="15.3" fill="#131722" stroke="#131722" stroke-width="0.9" textLength="2.60" lengthAdjust="spacingAndGlyphs">·</text>
<text x="198" y="16.85" font-size="15.3" fill="#131722" stroke="#131722" stroke-width="0.25" textLength="80.60" lengthAdjust="spacingAndGlyphs">FOREX.com</text>
<text x="287.7" y="15.8" font-size="12.6" fill="#4f6ef7" stroke="#4f6ef7" stroke-width="0.25" textLength="51.70" lengthAdjust="spacingAndGlyphs">+0.00536</text>
<text x="344.7" y="15.8" font-size="12.6" fill="#4f6ef7" stroke="#4f6ef7" stroke-width="0.25" textLength="47.60" lengthAdjust="spacingAndGlyphs">(+0.49%)</text>
<text x="6" y="39.9" font-size="12.8" fill="#131722" stroke="#131722" stroke-width="0.2" textLength="22.70" lengthAdjust="spacingAndGlyphs">SMA</text>
<text x="38.2" y="39.9" font-size="12.8" fill="#131722" stroke="#131722" stroke-width="0.2" textLength="44.20" lengthAdjust="spacingAndGlyphs">1.08702</text>
<rect x="6.5" y="49.8" width="28" height="19.5" rx="3" fill="#f0f0f2" stroke="#d4d8e4" stroke-width="1"/>
<path d="M16.2 62.2L20.5 57.9L24.8 62.2" fill="none" stroke="#131722" stroke-width="1.4"/>
</svg>
</body></html>
